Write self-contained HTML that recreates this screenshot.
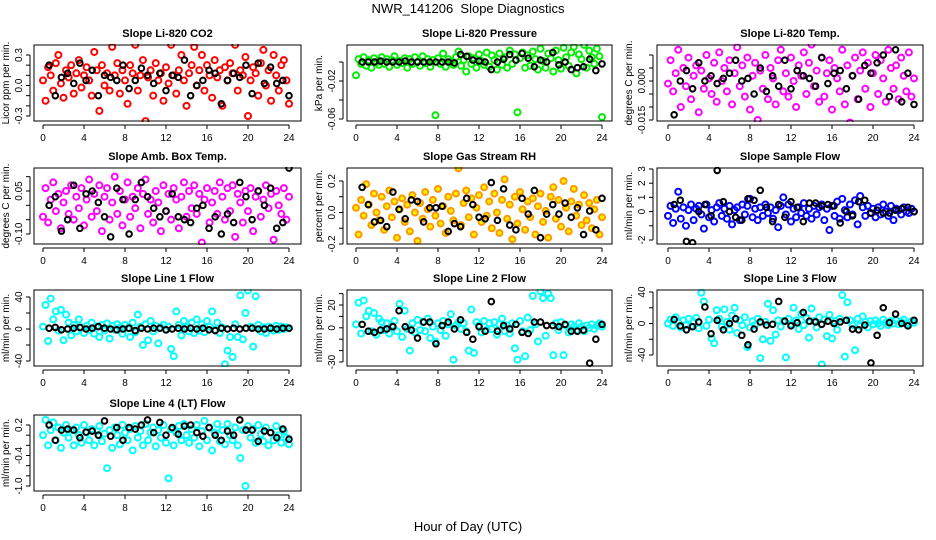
<!DOCTYPE html>
<html><head><meta charset="utf-8"><style>
body{margin:0;background:#fff;}
svg{display:block;font-family:"Liberation Sans",sans-serif;}
</style></head><body>
<svg id="chart" width="936" height="540" viewBox="0 0 936 540">
<text x="468" y="13" text-anchor="middle" font-size="13" style="white-space:pre">NWR_141206  Slope Diagnostics</text>
<text x="468" y="531" text-anchor="middle" font-size="13">Hour of Day (UTC)</text>
</svg>
<script>
const hours=[0,0.25,0.5,0.75,1,1.25,1.5,1.75,2,2.25,2.5,2.75,3,3.25,3.5,3.75,4,4.25,4.5,4.75,5,5.25,5.5,5.75,6,6.25,6.5,6.75,7,7.25,7.5,7.75,8,8.25,8.5,8.75,9,9.25,9.5,9.75,10,10.25,10.5,10.75,11,11.25,11.5,11.75,12,12.25,12.5,12.75,13,13.25,13.5,13.75,14,14.25,14.5,14.75,15,15.25,15.5,15.75,16,16.25,16.5,16.75,17,17.25,17.5,17.75,18,18.25,18.5,18.75,19,19.25,19.5,19.75,20,20.25,20.5,20.75,21,21.25,21.5,21.75,22,22.25,22.5,22.75,23,23.25,23.5,23.75,24];
const blackHours=[0.6,1.2,1.8,2.4,3,3.6,4.2,4.8,5.4,6,6.6,7.2,7.8,8.4,9,9.6,10.2,10.8,11.4,12,12.6,13.2,13.8,14.4,15,15.6,16.2,16.8,17.4,18,18.6,19.2,19.8,20.4,21,21.6,22.2,22.8,23.4,24];
const xTicks=[0,4,8,12,16,20,24];

const co2=[0.05,-0.15,0.18,0.10,-0.05,0.22,0.30,0.02,-0.12,0.15,0.08,0.20,-0.08,0.12,0.25,-0.02,0.10,0.18,0.05,-0.10,0.33,0.15,-0.25,0.20,0.00,0.12,-0.05,0.38,0.10,0.22,-0.08,0.15,0.05,-0.18,0.20,0.12,0.40,-0.05,0.10,0.25,-0.35,0.08,0.15,-0.10,0.22,0.05,0.12,-0.15,0.18,0.02,0.40,0.10,-0.08,0.15,0.30,0.05,-0.20,0.12,0.20,0.38,0.00,0.15,0.30,-0.05,0.20,0.10,-0.12,0.25,0.08,0.15,-0.20,0.18,0.05,0.22,0.12,0.40,-0.05,0.15,0.10,0.28,-0.30,0.05,0.18,0.12,-0.10,0.22,0.35,0.00,0.15,-0.15,0.30,0.10,-0.05,0.20,0.25,0.05,-0.18];
const co2Black=[0.2,-0.1,0.08,0.12,0.02,0.22,0.05,0.15,-0.1,0.1,0.08,0.05,0.2,-0.03,0.05,0.17,0.1,0.02,0.12,-0.05,0.1,0.08,0.25,-0.1,0.0,0.05,0.15,0.12,-0.18,0.05,0.12,0.08,0.2,-0.08,0.22,0.02,0.18,0.02,0.05,-0.1];
const pres=[-0.014,0.003,-0.002,0.005,-0.004,0.002,-0.006,0.004,0.000,-0.003,0.005,-0.002,0.003,-0.005,0.002,0.006,-0.003,0.001,-0.001,0.004,-0.006,0.003,-0.002,0.005,0.000,-0.004,0.006,-0.001,0.003,-0.005,0.002,-0.056,0.004,-0.002,0.009,-0.005,0.003,0.000,-0.003,0.005,0.011,-0.004,0.002,-0.010,0.006,-0.002,0.004,-0.006,0.008,0.001,-0.003,0.010,-0.005,0.007,0.002,-0.008,0.009,-0.003,0.005,-0.006,0.012,-0.002,0.008,-0.053,0.004,0.010,-0.006,0.007,-0.004,0.011,0.003,-0.008,0.014,0.001,-0.006,0.009,0.004,-0.010,0.012,0.002,-0.007,0.015,0.005,-0.004,0.010,0.016,-0.012,0.008,0.003,0.018,-0.006,0.012,0.005,-0.002,0.014,0.006,-0.058];
const presBlack=[0,0,0,0.001,0,0,0,0.001,0,0,0,0,0,0,0,-0.001,0.008,0.006,0.002,0.001,0,-0.008,0,0.003,0.008,0.002,0.009,0.004,-0.005,0.002,0,0.01,-0.003,0,-0.008,-0.006,-0.005,0.003,-0.009,-0.002];
const temp=[-0.001,0.008,-0.004,0.003,0.012,-0.010,0.005,-0.002,0.009,-0.007,0.002,0.006,-0.012,0.004,-0.003,0.010,0.001,-0.005,0.007,-0.008,0.011,0.000,0.005,-0.004,0.008,-0.009,0.003,0.013,-0.002,0.006,-0.006,0.009,-0.011,0.002,0.007,-0.015,0.004,-0.003,0.010,-0.007,0.005,0.001,-0.009,0.008,0.012,-0.004,0.003,-0.006,0.009,0.000,-0.010,0.006,0.002,0.011,-0.005,0.007,0.014,-0.002,0.004,-0.008,0.009,-0.006,0.003,0.008,-0.011,0.005,0.001,-0.004,0.012,-0.009,0.006,-0.016,0.002,0.009,-0.007,0.004,0.011,-0.003,0.007,-0.010,0.003,0.010,-0.005,0.008,0.001,-0.008,0.012,0.005,-0.003,0.006,-0.007,0.009,0.002,-0.004,0.011,-0.006,0.001];
const tempBlack=[-0.013,0.000,0.004,-0.003,0.007,0.000,0.002,-0.001,0.001,0.003,0.008,0.000,0.001,-0.005,0.005,-0.004,0.002,-0.002,0.008,-0.003,0.004,0.002,0.001,-0.002,0.009,-0.001,0.003,0.004,-0.003,0.002,-0.007,0.006,0.003,0.007,0.010,-0.006,0.012,-0.008,0.003,-0.009];
const amb=[-0.04,0.06,-0.06,0.02,0.08,-0.02,0.04,-0.08,0.01,0.05,-0.03,0.07,-0.05,0.03,-0.01,0.06,-0.07,0.02,0.09,-0.04,0.04,-0.02,0.07,-0.09,0.03,0.06,-0.05,0.01,0.10,-0.03,0.05,-0.07,0.02,0.08,-0.04,0.03,-0.01,0.06,-0.08,0.04,0.09,-0.03,0.02,-0.06,0.05,0.01,-0.09,0.07,-0.02,0.04,-0.05,0.06,0.02,-0.08,0.03,0.08,-0.04,0.05,-0.01,0.07,-0.03,0.04,-0.13,0.02,0.06,-0.06,0.01,0.05,-0.03,0.08,0.03,-0.05,0.06,-0.02,0.07,-0.11,0.04,0.01,-0.06,0.05,-0.02,0.06,-0.09,0.03,0.05,-0.04,0.02,0.07,-0.01,0.04,-0.12,0.05,0.00,-0.03,0.06,-0.05,0.03];
const ambBlack=[0.00,0.03,-0.09,-0.05,0.07,-0.08,0.04,0.05,0.01,-0.04,-0.11,0.06,0.02,-0.10,0.02,0.08,0.03,-0.01,-0.04,-0.02,0.04,-0.04,-0.05,-0.06,-0.01,0.00,-0.08,-0.04,-0.10,-0.03,-0.06,0.08,0.03,-0.05,0.05,0.00,0.06,-0.08,-0.06,0.13];
const rh=[0.03,-0.14,0.08,-0.02,0.18,0.05,-0.08,0.12,0.00,-0.05,0.10,-0.11,0.04,0.14,-0.03,0.07,-0.16,0.02,0.09,-0.06,0.05,-0.12,0.11,0.00,-0.18,0.06,-0.04,0.13,0.02,-0.09,0.08,-0.02,0.15,-0.07,0.04,-0.13,0.10,0.01,-0.05,0.12,0.28,-0.08,0.06,0.14,-0.03,0.09,-0.14,0.03,0.11,-0.06,0.16,-0.02,0.07,-0.10,0.12,0.00,-0.13,0.08,0.21,-0.04,0.05,-0.17,0.10,-0.07,0.13,0.02,-0.11,0.07,-0.03,0.09,-0.14,0.04,0.12,-0.06,0.01,-0.16,0.10,0.16,-0.04,0.08,-0.09,0.20,0.03,-0.12,0.07,0.15,-0.02,0.05,-0.08,0.11,-0.05,0.06,-0.10,0.02,0.08,-0.14,-0.03];
const rhBlack=[0.16,0.05,-0.06,-0.05,-0.09,0.13,0.02,-0.04,0.08,0.07,-0.06,0.03,0.03,0.04,-0.12,-0.07,-0.09,0.09,0.05,-0.03,-0.04,0.19,-0.05,0.15,-0.08,-0.11,0.09,-0.01,0.14,-0.16,-0.01,0.05,-0.01,0.06,-0.03,0.03,-0.14,0.01,-0.11,0.09];
const flow=[-0.3,0.4,-0.8,0.2,1.4,-0.5,0.3,-1.0,0.1,0.5,-0.6,0.2,0.4,-0.2,-1.2,0.5,-0.4,0.1,-0.7,0.3,0.6,-0.3,0.2,-0.5,0.4,-0.9,0.1,0.3,-0.6,0.5,-0.2,0.4,0.9,-0.4,0.2,-0.6,0.3,-0.3,0.5,-0.1,0.3,-0.5,0.1,-1.1,0.4,1.0,-0.2,0.5,-0.7,0.2,-0.4,0.3,-0.1,0.6,-0.3,0.2,-0.5,0.4,-0.2,0.3,0.5,-0.6,0.2,-1.3,0.4,-0.3,0.7,-0.5,0.9,0.1,-0.4,0.5,-0.2,0.8,-0.9,1.1,0.3,-0.3,0.4,-0.1,0.2,-0.4,0.3,-0.2,0.5,0.0,-0.3,0.4,-0.6,0.2,0.1,-0.2,0.3,0.0,-0.1,0.2,0.0];
const flowBlack=[0.5,0.8,-2.1,-2.2,0.0,0.5,-0.3,2.9,0.7,0.0,-0.4,-0.6,0.9,0.8,1.5,0.3,-0.7,0.5,-0.4,0.7,0.3,-0.7,0.6,0.6,0.4,0.5,0.4,-0.8,0.0,-0.3,0.7,0.8,-0.1,0.1,-0.1,-0.1,0.1,0.2,0.3,0.0];
const line1=[3,30,-15,38,12,22,-2,24,-14,18,8,-8,5,-3,12,2,-5,4,-1,8,-6,3,-10,5,-2,7,-12,4,-1,6,2,-6,5,1,-10,8,-4,18,3,-20,6,-14,10,-3,4,-18,2,5,-1,3,-25,-34,22,5,-8,10,2,-3,8,-5,12,-2,6,-4,10,3,22,-1,8,-5,2,-44,-27,-10,-35,6,-10,42,-13,20,48,3,-22,41,5,-3,2,-5,3,1,-2,4,-1,3,0,2,1];
const line1Black=[1,2,-1,0,1,2,0,1,3,1,0,-1,0,1,-2,1,0,1,1,-1,0,1,0,1,0,1,-1,-2,1,0,1,0,1,1,0,0,1,0,1,1];
const line2=[3,22,-5,24,10,15,-3,13,-6,8,5,-2,4,-5,2,6,-3,21,-8,15,-1,-20,4,-4,7,-2,5,-3,8,-9,1,-12,4,-2,6,-7,3,12,-28,2,5,-1,4,-3,-20,16,-22,5,2,-4,6,-2,4,-1,5,-6,3,8,-3,2,-5,4,-18,-28,6,-3,-25,9,-2,28,3,-12,32,26,-7,30,26,-24,4,-2,5,-24,2,-4,3,1,-2,4,1,-3,2,0,3,-1,2,4,1];
const line2Black=[3,-3,-4,-2,-1,1,15,1,-2,-9,5,5,-14,2,5,-1,7,-4,-10,1,-3,23,-3,2,-1,3,-4,-5,5,5,2,2,1,3,-3,-3,-2,-31,-10,3];
const line3=[0,5,-3,8,1,-5,4,-2,6,-4,2,7,-6,39,28,-3,5,-19,-25,17,6,-4,18,2,-8,10,20,-12,4,-2,8,-30,-5,3,-2,6,-44,-20,2,25,-22,17,-14,4,-4,3,-43,6,-1,20,4,-7,12,-2,7,-18,19,3,-5,8,-52,5,-16,11,-19,3,-8,6,36,-42,27,4,-2,-34,6,-3,9,2,-5,3,-1,4,0,-3,5,1,-2,3,0,4,-1,2,5,0,-2,3,1];
const line3Black=[5,-3,-8,-4,2,21,-13,4,-8,0,6,-15,-27,-7,2,-2,-1,28,3,-3,1,14,3,2,-1,3,0,2,4,-7,-8,-2,-50,-15,20,1,12,0,-3,4];
const line4=[0.0,0.3,-0.2,0.1,0.25,-0.1,0.15,-0.25,0.05,0.2,-0.05,0.1,-0.2,0.15,0.0,-0.15,0.2,0.05,-0.1,0.12,-0.2,0.08,0.18,-0.12,0.03,-0.65,0.1,-0.25,0.15,0.0,-0.18,0.2,0.05,-0.1,0.12,-0.3,0.18,-0.05,0.08,-0.2,0.22,-0.1,0.05,0.15,-0.22,0.1,-0.05,0.2,-0.15,-0.85,0.12,-0.2,0.05,0.18,-0.1,0.22,0.0,-0.15,0.12,-0.05,0.2,-0.22,0.08,0.28,-0.1,0.15,-0.3,0.05,0.22,-0.12,0.1,-0.18,0.22,0.0,-0.1,0.15,-0.2,-0.45,0.1,-1.0,0.18,-0.05,0.12,-0.15,0.2,0.02,-0.12,0.15,-0.2,0.05,-0.1,0.18,0.0,-0.15,0.08,-0.05,-0.18];
const line4Black=[0.2,-0.1,0.1,0.12,0.1,-0.05,0.06,0.08,0.0,0.28,-0.02,0.15,-0.1,0.15,0.12,0.2,0.3,0.05,0.25,0.0,0.15,0.02,0.18,0.2,0.05,-0.02,0.15,0.0,-0.1,0.08,0.0,0.3,0.1,0.1,-0.12,0.08,0.05,-0.05,0.12,-0.08];

const NS='http://www.w3.org/2000/svg';
const svg=document.getElementById('chart');
const cols=[{l:34,r:301,x0:43,x24:289},{l:347,r:612,x0:356,x24:602},{l:657,r:923,x0:668,x24:914}];
const rows=[{t:45,b:121},{t:168,b:244},{t:290,b:366},{t:415,b:491}];
const panels=[
 {id:'co2',title:'Slope Li-820 CO2',yl:'Licor ppm per min.',c:0,r:0,col:'#ff0000',fill:'none',d:co2,k:co2Black,v1:0.3,p1:55,v2:-0.3,p2:116,ticks:[0.3,0.2,0.1,0,-0.1,-0.2,-0.3],labels:['0.3','0.0','-0.3'],lv:[0.3,0,-0.3]},
 {id:'pressure',title:'Slope Li-820 Pressure',yl:'kPa per min.',c:1,r:0,col:'#00ee00',fill:'none',d:pres,k:presBlack,v1:0,p1:62,v2:-0.06,p2:119,ticks:[0,-0.02,-0.04,-0.06],labels:['-0.02','-0.06'],lv:[-0.02,-0.06]},
 {id:'temp',title:'Slope Li-820 Temp.',yl:'degrees C per min.',c:2,r:0,col:'#ff00ff',fill:'none',d:temp,k:tempBlack,v1:0,p1:81,v2:-0.015,p2:120,ticks:[0.01,0.005,0,-0.005,-0.01,-0.015],labels:['0.000','-0.015'],lv:[0,-0.015]},
 {id:'amb',title:'Slope Amb. Box Temp.',yl:'degrees C per min.',c:0,r:1,col:'#ff00ff',fill:'none',d:amb,k:ambBlack,v1:0.05,p1:191,v2:-0.1,p2:234,ticks:[0.1,0.05,0,-0.05,-0.1],labels:['0.05','-0.10'],lv:[0.05,-0.1]},
 {id:'rh',title:'Slope Gas Stream RH',yl:'percent per min.',c:1,r:1,col:'#ff9900',fill:'#ffee00',d:rh,k:rhBlack,v1:0.2,p1:181,v2:-0.2,p2:244,ticks:[0.2,0.1,0,-0.1,-0.2],labels:['0.2','0.0','-0.2'],lv:[0.2,0,-0.2]},
 {id:'sample-flow',title:'Slope Sample Flow',yl:'ml/min per min.',c:2,r:1,col:'#0000ff',fill:'none',d:flow,k:flowBlack,v1:3,p1:169,v2:-2,p2:240,ticks:[3,2,1,0,-1,-2],labels:['3','2','1','0','-2'],lv:[3,2,1,0,-2]},
 {id:'line1',title:'Slope Line 1 Flow',yl:'ml/min per min.',c:0,r:2,col:'#00ffff',fill:'none',d:line1,k:line1Black,v1:40,p1:297,v2:-40,p2:361,ticks:[40,20,0,-20,-40],labels:['40','0','-40'],lv:[40,0,-40]},
 {id:'line2',title:'Slope Line 2 Flow',yl:'ml/min per min.',c:1,r:2,col:'#00ffff',fill:'none',d:line2,k:line2Black,v1:20,p1:305,v2:-30,p2:362,ticks:[30,20,10,0,-10,-20,-30],labels:['20','0','-30'],lv:[20,0,-30]},
 {id:'line3',title:'Slope Line 3 Flow',yl:'ml/min per min.',c:2,r:2,col:'#00ffff',fill:'none',d:line3,k:line3Black,v1:40,p1:292,v2:-40,p2:355,ticks:[40,20,0,-20,-40],labels:['40','0','-40'],lv:[40,0,-40]},
 {id:'line4',title:'Slope Line 4 (LT) Flow',yl:'ml/min per min.',c:0,r:3,col:'#00ffff',fill:'none',d:line4,k:line4Black,v1:0.2,p1:425,v2:-1.0,p2:486,ticks:[0.2,0,-0.2,-0.4,-0.6,-0.8,-1.0],labels:['0.2','-0.4','-1.0'],lv:[0.2,-0.4,-1.0]}
];
function mk(tag,attrs,parent){const e=document.createElementNS(NS,tag);for(const k in attrs)e.setAttribute(k,attrs[k]);(parent||svg).appendChild(e);return e;}
panels.forEach(p=>{
 const C=cols[p.c],R=rows[p.r];
 const g=mk('g',{});
 
 
 const xs=h=>C.x0+(C.x24-C.x0)*h/24;
 const ys=v=>p.p1+(p.p2-p.p1)*(v-p.v1)/(p.v2-p.v1);
 const t=mk('text',{x:(C.l+C.r)/2,y:R.t-8,'text-anchor':'middle','font-size':11,'font-weight':'bold'},g);
 t.textContent=p.title;
 
 
 const clip=mk('clipPath',{id:'clip-'+p.id},g);
 mk('rect',{x:C.l,y:R.t-1,width:C.r-C.l,height:R.b-R.t+2},clip);
 const pts=mk('g',{'clip-path':'url(#clip-'+p.id+')'},g);
 const n=Math.min(hours.length,p.d.length);
 for(let i=0;i<n;i++){
  const c=mk('circle',{cx:xs(hours[i]),cy:ys(p.d[i]),r:3,fill:p.fill,stroke:p.col,'stroke-width':2},pts);
  
  
 }
 const m=Math.min(blackHours.length,p.k.length);
 for(let i=0;i<m;i++){
  const c=mk('circle',{cx:xs(blackHours[i]),cy:ys(p.k[i]),r:2.8,fill:'none',stroke:'#000','stroke-width':2},pts);
  
  
 }
 const box=mk('rect',{x:C.l,y:R.t,width:C.r-C.l,height:R.b-R.t,fill:'none',stroke:'#000','stroke-width':1},g);
 
 
 mk('line',{x1:xs(0),x2:xs(24),y1:R.b+4,y2:R.b+4,stroke:'#000'},g);
 xTicks.forEach(h=>{
  mk('line',{x1:xs(h),x2:xs(h),y1:R.b+4,y2:R.b+8,stroke:'#000'},g);
  const tl=mk('text',{x:xs(h),y:R.b+20,'text-anchor':'middle','font-size':10},g);
  tl.textContent=h;
  
  
 });
 const ya=C.l-4;
 mk('line',{x1:ya,x2:ya,y1:ys(p.ticks[0]),y2:ys(p.ticks[p.ticks.length-1]),stroke:'#000'},g);
 p.ticks.forEach(v=>mk('line',{x1:ya-4,x2:ya,y1:ys(v),y2:ys(v),stroke:'#000'},g));
 p.labels.forEach((s,i)=>{
  const yy=ys(p.lv[i]);
  const tl=mk('text',{x:ya-8,y:yy,'text-anchor':'middle','font-size':10,transform:'rotate(-90 '+(ya-8)+' '+yy+')'},g);
  tl.textContent=s;
  
  
 });
 const cy=(R.t+R.b)/2,cx=C.l-25;
 const yl=mk('text',{x:cx,y:cy,'text-anchor':'middle','font-size':10,transform:'rotate(-90 '+cx+' '+cy+')'},g);
 yl.textContent=p.yl;
 
 
});
</script>
</body></html>
